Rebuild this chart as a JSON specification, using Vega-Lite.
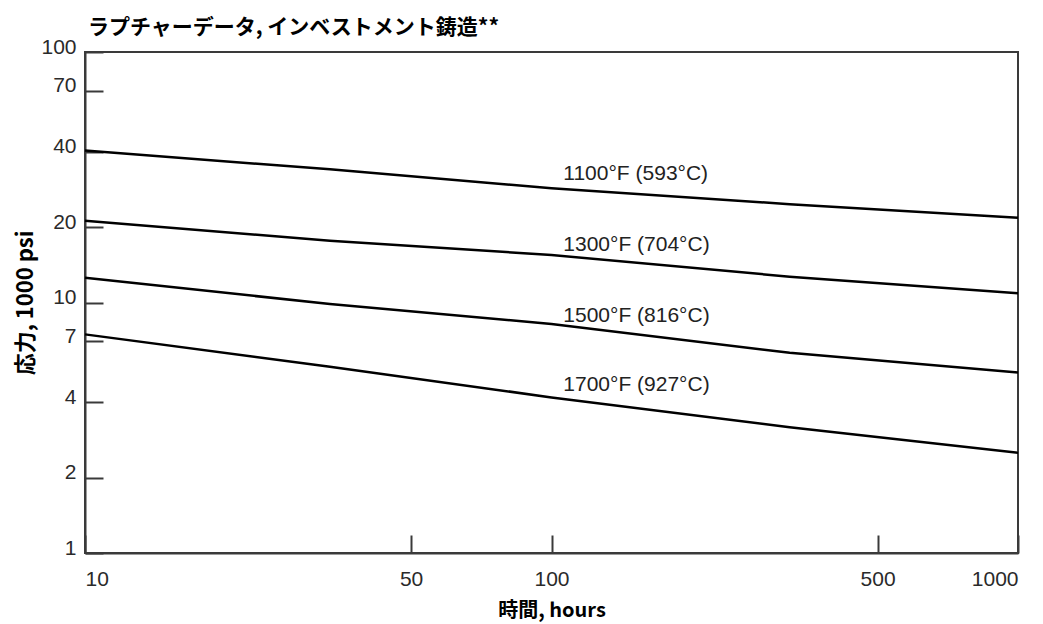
{
  "$schema": "https://vega.github.io/schema/vega-lite/v6.json",
  "width": 933,
  "height": 501,
  "autosize": {"type": "none"},
  "padding": {"left": 85, "top": 52, "right": 25, "bottom": 71},
  "background": "white",
  "title": {
    "text": "ラプチャーデータ, インベストメント鋳造**",
    "anchor": "start",
    "font": "Noto Sans CJK JP",
    "fontSize": 21,
    "fontWeight": "bold",
    "color": "black",
    "dx": 73,
    "offset": -2
  },
  "datasets": {
    "curves": [
      {"temp": "1100", "hours": 10, "stress": 40.4},
      {"temp": "1100", "hours": 33.5, "stress": 34.0},
      {"temp": "1100", "hours": 100, "stress": 28.6},
      {"temp": "1100", "hours": 324, "stress": 24.7},
      {"temp": "1100", "hours": 1000, "stress": 21.8},
      {"temp": "1300", "hours": 10, "stress": 21.2},
      {"temp": "1300", "hours": 33.5, "stress": 17.65},
      {"temp": "1300", "hours": 100, "stress": 15.47},
      {"temp": "1300", "hours": 324, "stress": 12.68},
      {"temp": "1300", "hours": 1000, "stress": 10.88},
      {"temp": "1500", "hours": 10, "stress": 12.56},
      {"temp": "1500", "hours": 33.5, "stress": 9.86},
      {"temp": "1500", "hours": 100, "stress": 8.21},
      {"temp": "1500", "hours": 324, "stress": 6.3},
      {"temp": "1500", "hours": 1000, "stress": 5.26},
      {"temp": "1700", "hours": 10, "stress": 7.46},
      {"temp": "1700", "hours": 33.5, "stress": 5.54},
      {"temp": "1700", "hours": 100, "stress": 4.18},
      {"temp": "1700", "hours": 324, "stress": 3.18},
      {"temp": "1700", "hours": 1000, "stress": 2.51}
    ],
    "labels": [
      {"label": "1100°F (593°C)", "hours": 106, "stress": 32.6},
      {"label": "1300°F (704°C)", "hours": 106, "stress": 16.96},
      {"label": "1500°F (816°C)", "hours": 106, "stress": 8.84},
      {"label": "1700°F (927°C)", "hours": 106, "stress": 4.69}
    ]
  },
  "layer": [
    {
      "data": {"name": "curves"},
      "mark": {"type": "line", "color": "black", "strokeWidth": 2.5},
      "encoding": {
        "x": {
          "field": "hours",
          "type": "quantitative",
          "scale": {"type": "log", "domain": [10, 1000], "nice": false},
          "axis": {
            "title": "時間, hours",
            "values": [10, 50, 100, 500, 1000],
            "format": "d",
            "labelFlush": true,
            "tickSize": -18,
            "labelPadding": 33,
            "titlePadding": 11,
            "titleFont": "Noto Sans CJK JP",
            "titleFontSize": 20,
            "titleFontWeight": "bold"
          }
        },
        "y": {
          "field": "stress",
          "type": "quantitative",
          "scale": {"type": "log", "domain": [1, 100], "nice": false},
          "axis": {
            "title": "応力, 1000 psi",
            "values": [1, 2, 4, 7, 10, 20, 40, 70, 100],
            "format": "d",
            "tickSize": -18,
            "labelPadding": 27,
            "labelOffset": -5,
            "titlePadding": 3,
            "titleFont": "Noto Sans CJK JP",
            "titleFontSize": 22,
            "titleFontWeight": "bold"
          }
        },
        "detail": {"field": "temp", "type": "nominal"}
      }
    },
    {
      "data": {"name": "labels"},
      "mark": {
        "type": "text",
        "align": "left",
        "baseline": "middle",
        "font": "Liberation Sans",
        "fontSize": 21,
        "color": "#222222"
      },
      "encoding": {
        "x": {"field": "hours", "type": "quantitative"},
        "y": {"field": "stress", "type": "quantitative"},
        "text": {"field": "label", "type": "nominal"}
      }
    }
  ],
  "config": {
    "view": {"stroke": "#3a3a3a", "strokeWidth": 2},
    "axis": {
      "grid": false,
      "domainColor": "#3a3a3a",
      "domainWidth": 2,
      "tickColor": "#3a3a3a",
      "tickWidth": 2,
      "labelFont": "Liberation Sans",
      "labelFontSize": 21,
      "labelColor": "#2a2a2a",
      "titleColor": "black"
    }
  }
}
